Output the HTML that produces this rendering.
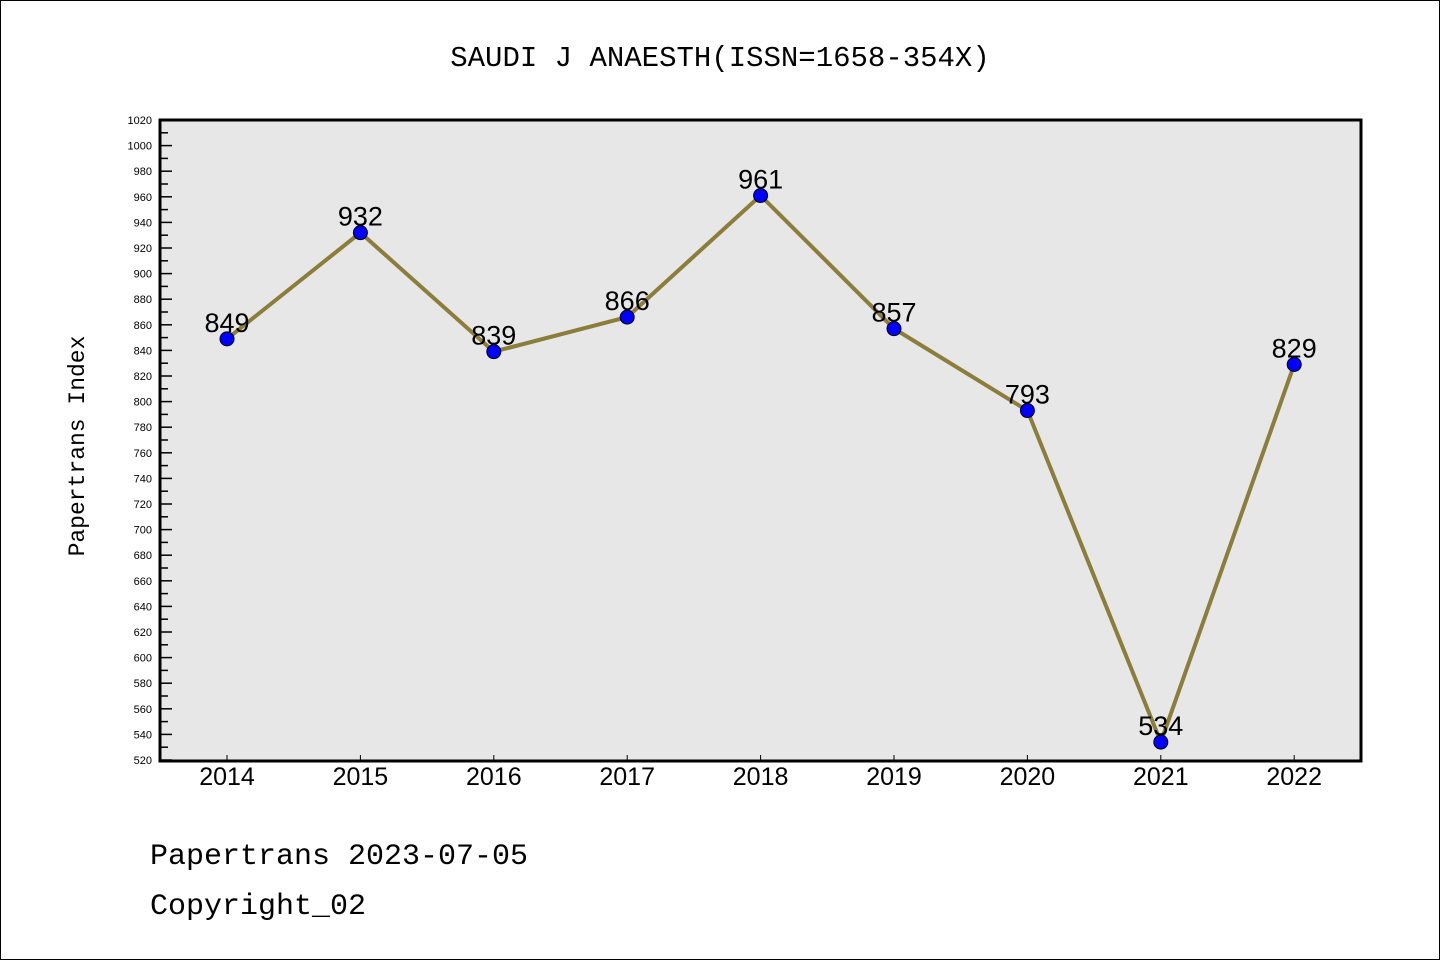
<!DOCTYPE html>
<html><head><meta charset="utf-8"><style>
body{margin:0;background:#fff}
svg{display:block;font-family:"Liberation Mono","DejaVu Sans Mono",monospace}
</style></head><body>
<svg id="c" width="1440" height="960" xmlns="http://www.w3.org/2000/svg">
<rect x="0.5" y="0.5" width="1439" height="959" fill="#fff" stroke="#000"/>
<text x="720" y="66" text-anchor="middle" font-size="29">SAUDI J ANAESTH(ISSN=1658-354X)</text>
<rect x="160" y="120" width="1201" height="641" fill="#e7e7e7"/>
<g id="ticks"></g>
<g id="marks"></g>
<rect x="160" y="120" width="1201" height="641" fill="none" stroke="#000" stroke-width="3"/>
<text transform="translate(84,446) rotate(-90)" text-anchor="middle" font-size="23">Papertrans Index</text>
<text x="150" y="864" font-size="30">Papertrans 2023-07-05</text>
<text x="150" y="914" font-size="30">Copyright_02</text>
</svg>
<script>
const years=["2014","2015","2016","2017","2018","2019","2020","2021","2022"];
const values=[849,932,839,866,961,857,793,534,829];
const yTicks=[520,540,560,580,600,620,640,660,680,700,720,740,760,780,800,820,840,860,880,900,920,940,960,980,1000,1020];
const NS="http://www.w3.org/2000/svg";
const yMin=520,yMax=1020;
function ys(v){return 760-(v-yMin)/(yMax-yMin)*640;}
function xs(i){return 227+i*133.4;}
function mk(t,a,p){const e=document.createElementNS(NS,t);for(const k in a)e.setAttribute(k,a[k]);p.appendChild(e);return e;}
const tg=document.getElementById('ticks'),mg=document.getElementById('marks');
yTicks.forEach(v=>{
 const y=ys(v);
 const l=mk('line',{x1:160,x2:172,y1:y,y2:y,stroke:'#000','stroke-width':1.5},tg);
 
 
 if(v<yMax){const m=mk('line',{x1:160,x2:168,y1:ys(v+10),y2:ys(v+10),stroke:'#000','stroke-width':1.5},tg);
 
 }
 const t=mk('text',{x:152,y:y+4,'text-anchor':'end','font-size':11,'font-family':'Liberation Sans, sans-serif'},tg);
 t.textContent=v;
 
 
});
years.forEach((yr,i)=>{
 const x=xs(i);
 const l=mk('line',{x1:x,x2:x,y1:761,y2:755,stroke:'#000','stroke-width':1},tg);
 
 
 const t=mk('text',{x:x,y:785,'text-anchor':'middle','font-size':25,'font-family':'Liberation Sans, sans-serif'},tg);
 t.textContent=yr;
 
 
});
const pts=values.map((v,i)=>xs(i)+','+ys(v)).join(' ');
const pl=mk('polyline',{points:pts,fill:'none',stroke:'#8b7d3a','stroke-width':4},mg);


values.forEach((v,i)=>{
 const c=mk('circle',{cx:xs(i),cy:ys(v),r:7,fill:'#0000ff',stroke:'#000','stroke-width':1},mg);
 
 
 const t=mk('text',{x:xs(i),y:ys(v)-7,'text-anchor':'middle','font-size':27,'font-family':'Liberation Sans, sans-serif'},mg);
 t.textContent=v;
 
 
});
</script>
</body></html>
